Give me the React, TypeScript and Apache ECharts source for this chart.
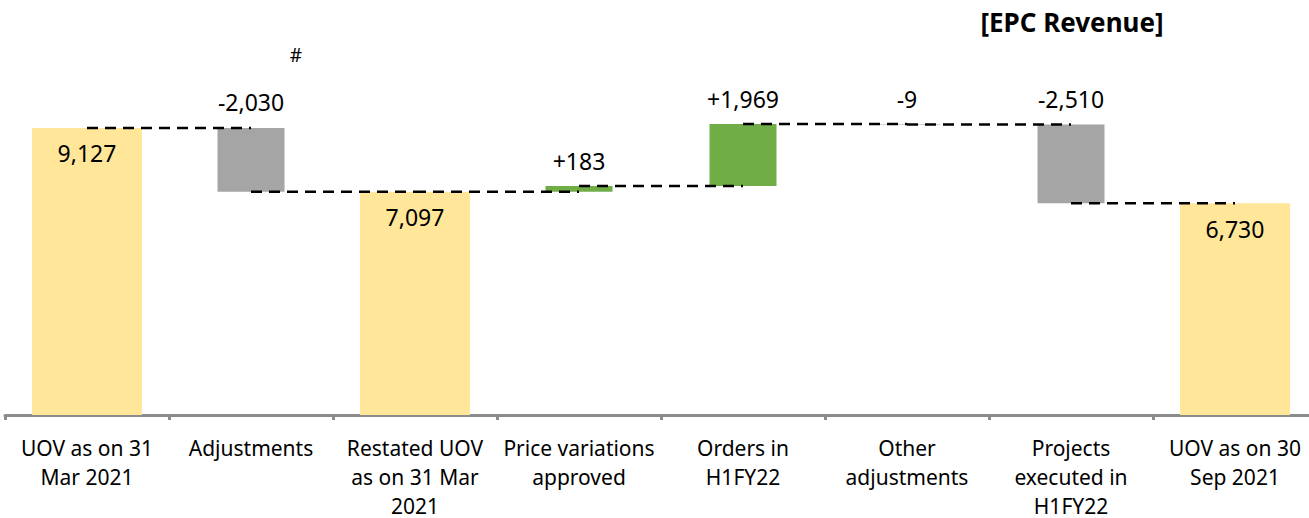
import React, { useEffect, useRef } from "react";
import * as echarts from "echarts";

const categories = [
  "UOV as on 31\nMar 2021",
  "Adjustments",
  "Restated UOV\nas on 31 Mar\n2021",
  "Price variations\napproved",
  "Orders in\nH1FY22",
  "Other\nadjustments",
  "Projects\nexecuted in\nH1FY22",
  "UOV as on 30\nSep 2021",
];
const totals: (number | null)[] = [9127, null, 7097, null, null, null, null, 6730];
const deltas: (number | null)[] = [null, -2030, null, 183, 1969, -9, -2510, null];

const fmt = (v: number) => v.toLocaleString("en-US");
const fmtSigned = (v: number) => (v > 0 ? "+" : "") + v.toLocaleString("en-US");

export default function App() {
  const ref = useRef<HTMLDivElement>(null);
  useEffect(() => {
    if (!ref.current) return;
    const chart = echarts.init(ref.current, null, { renderer: "svg" });

    const levels: number[] = [];
    const base: (number | null)[] = [];
    const mag: (number | null)[] = [];
    let run = 0;
    categories.forEach((_, i) => {
      const t = totals[i];
      const d = deltas[i];
      if (t != null) {
        run = t;
        base.push(null);
        mag.push(null);
      } else if (d != null) {
        const next = run + d;
        base.push(Math.min(run, next));
        mag.push(Math.abs(d));
        run = next;
      } else {
        base.push(null);
        mag.push(null);
      }
      levels.push(run);
    });
    const connectors = levels.slice(0, -1).map((lv, i) => [i, lv]);
    const font = "'Noto Sans', sans-serif";

    chart.setOption({
      animation: false,
      grid: {
        left: 5,
        top: 100.5,
        width: 1312,
        bottom: 103,
        containLabel: false,
        outerBoundsMode: "none",
      },
      xAxis: [
        {
          type: "category",
          data: categories,
          axisLine: { show: true, lineStyle: { color: "#8c8c8c", width: 3 } },
          axisTick: { show: true, length: 5, lineStyle: { color: "#8c8c8c", width: 3 } },
          axisLabel: {
            interval: 0,
            color: "#000",
            fontFamily: font,
            fontSize: 21,
            lineHeight: 29,
            margin: 18,
            hideOverlap: false,
          },
        },
        {
          type: "category",
          data: categories,
          show: false,
        },
      ],
      yAxis: { type: "value", min: 0, max: 10000, show: false },
      series: [
        {
          type: "bar",
          xAxisIndex: 0,
          data: totals,
          barWidth: 110,
          itemStyle: { color: "#FFE699" },
          label: {
            show: true,
            position: "insideTop",
            distance: 14,
            color: "#000",
            fontFamily: font,
            fontSize: 23,
            formatter: (p: any) => fmt(p.value),
          },
          z: 2,
        },
        {
          type: "bar",
          xAxisIndex: 1,
          stack: "d",
          data: base,
          barWidth: 67,
          itemStyle: { color: "transparent" },
          silent: true,
          z: 2,
        },
        {
          type: "bar",
          xAxisIndex: 1,
          stack: "d",
          data: mag.map((m, i) => {
            if (m == null) return null;
            const d = deltas[i] as number;
            return { value: m, itemStyle: { color: d < 0 ? "#A5A5A5" : "#70AD47" } };
          }),
          barWidth: 67,
          label: {
            show: true,
            position: "top",
            distance: 14,
            color: "#000",
            fontFamily: font,
            fontSize: 23,
            formatter: (p: any) => fmtSigned(deltas[p.dataIndex] as number),
          },
          z: 2,
        },
        {
          type: "custom",
          xAxisIndex: 0,
          data: connectors,
          z: 5,
          renderItem: (params: any, api: any) => {
            const i = api.value(0);
            const lv = api.value(1);
            const p1 = api.coord([i, lv]);
            const p2 = api.coord([i + 1, lv]);
            return {
              type: "line",
              shape: { x1: p1[0], y1: p1[1], x2: p2[0], y2: p2[1] },
              style: { stroke: "#000", lineWidth: 2.5, lineDash: [11, 7] },
            };
          },
        },
      ],
      graphic: [
        {
          type: "text",
          x: 1072,
          y: 22,
          style: {
            text: "[EPC Revenue]",
            fontFamily: font,
            fontWeight: "bold",
            fontSize: 26,
            fill: "#000",
            textAlign: "center",
            textVerticalAlign: "middle",
          },
        },
        {
          type: "text",
          x: 296,
          y: 55,
          style: {
            text: "#",
            fontFamily: font,
            fontSize: 19,
            fill: "#000",
            textAlign: "center",
            textVerticalAlign: "middle",
          },
        },
      ],
    });
    return () => chart.dispose();
  }, []);
  return (
    <div
      ref={ref}
      style={{ position: "fixed", left: 0, top: 0, width: 1309, height: 518, background: "#fff" }}
    />
  );
}
